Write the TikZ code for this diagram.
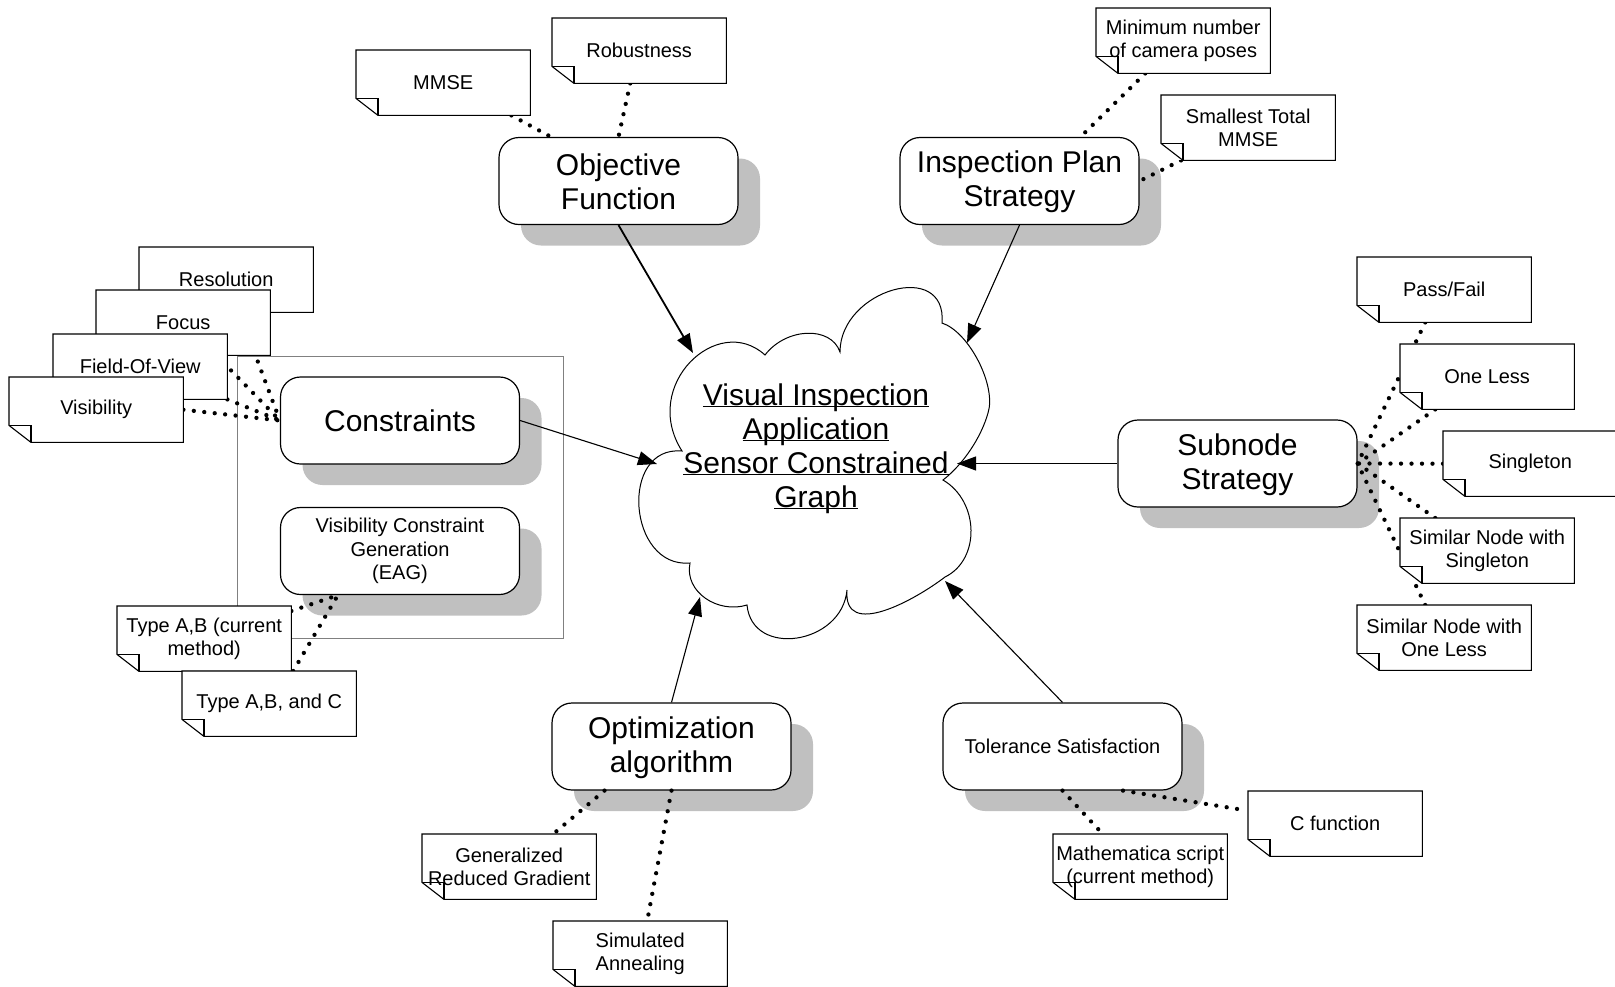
\documentclass[tikz,border=0pt]{standalone}
\usepackage{fontspec}
\setmainfont{Liberation Sans}
\usetikzlibrary{arrows.meta,shadows,calc}
\definecolor{shadowgray}{RGB}{192,192,192}
\definecolor{framegray}{RGB}{128,128,128}
\newcommand\bigfont{\fontsize{30}{34}\selectfont}
\newcommand\smallfont{\fontsize{20}{23.5}\selectfont}
\newcommand\ulin[1]{\underline{\smash{#1}}}
\pgfdeclarelayer{boxes}
\pgfdeclarelayer{dots}
\pgfsetlayers{boxes,dots,main}
\newcommand\notebox[4]{%
  \node[note] (#1) at (#2,#3) {#4};
  \draw[notepen] (#1.north west) -- (#1.north east) -- (#1.south east) -- ([xshift=22pt]#1.south west) -- ([yshift=17pt]#1.south west) -- cycle;
  \draw[notepen] ([yshift=17pt]#1.south west) -- ([shift={(22pt,17pt)}]#1.south west) -- ([xshift=22pt]#1.south west);
}
\begin{document}
\begin{tikzpicture}[x=1pt,y=-1pt,
  mainbox/.style={draw, line width=1.2pt, fill=white, rounded corners=20pt,
    minimum width=239pt, minimum height=87pt, inner sep=0pt, align=center, font=\bigfont,
    drop shadow={shadow xshift=22pt, shadow yshift=-21pt, opacity=1, fill=shadowgray}},
  note/.style={rectangle, fill=white, minimum width=174pt, minimum height=65pt,
    inner sep=0pt, align=center, font=\smallfont, anchor=north west},
  notepen/.style={draw=black, line width=1.1pt, line join=miter},
  dotline/.style={line width=4.3pt, dash pattern=on 0pt off 10.5pt, line cap=round},
  arr/.style={line width=1.1pt, -{Triangle[length=19pt,width=14pt]}},
  cloudline/.style={draw=black, line width=1pt, fill=white}]
\useasboundingbox (0,0) rectangle (1615,986);

% ---- boxes layer: frame and main rounded boxes with shadows
\begin{pgfonlayer}{boxes}
\draw[framegray, line width=1pt] (237,356) rectangle (563,638);
\node[mainbox] (obj) at (618.5,181) {\rule{0pt}{24pt}Objective\\Function};
\node[mainbox] (insp) at (1019.5,181) {\rule{0pt}{24pt}Inspection Plan\\Strategy};
\node[mainbox] (cons) at (400,420.5) {Constraints};
\node[mainbox, font=\smallfont] (vcg) at (400,551) {Visibility Constraint\\Generation\\(EAG)};
\node[mainbox] (sub) at (1237.5,463.5) {\rule{0pt}{24pt}Subnode\\Strategy};
\node[mainbox] (opt) at (671.5,746.5) {\rule{0pt}{24pt}Optimization\\algorithm};
\node[mainbox, font=\smallfont] (tol) at (1062.5,746.5) {Tolerance Satisfaction};
\end{pgfonlayer}

% ---- notes
\notebox{res}{139}{247}{Resolution}
\notebox{focus}{96}{290}{Focus}
\notebox{fov}{53}{334}{Field-Of-View}
\notebox{vis}{9}{377}{Visibility}
\notebox{typeab}{117}{606}{Type A,B (current\\method)}
\notebox{typeabc}{182}{671}{Type A,B, and C}
\notebox{mmse}{356}{50}{MMSE}
\notebox{rob}{552}{18}{Robustness}
\notebox{min}{1096}{8}{Minimum number\\of camera poses}
\notebox{small}{1161}{95}{Smallest Total\\MMSE}
\notebox{pass}{1357}{257}{Pass/Fail}
\notebox{oneless}{1400}{344}{One Less}
\notebox{single}{1443}{431}{Singleton}
\notebox{snws}{1400}{518}{Similar Node with\\Singleton}
\notebox{snwol}{1357}{605}{Similar Node with\\One Less}
\notebox{gen}{422}{834}{Generalized\\Reduced Gradient}
\notebox{sim}{553}{921}{Simulated\\Annealing}
\notebox{math}{1053}{834}{Mathematica script\\(current method)}
\notebox{cfun}{1248}{791}{C function}

% ---- dotted connectors
\begin{pgfonlayer}{dots}
\draw[dotline] ([xshift=-19pt]mmse.south east) -- ([xshift=-67.5pt]obj.north);
\draw[dotline] ([xshift=-9pt]rob.south) -- (obj.north);
\draw[dotline] ([xshift=-38pt]min.south) -- ([xshift=61pt]insp.north);
\draw[dotline] ([xshift=20pt]small.south west) -- (insp.east);
\draw[dotline] ([xshift=-74pt]res.south east) -- (cons.west);
\draw[dotline] ([xshift=-54pt]focus.south east) -- (cons.west);
\draw[dotline] (fov.south east) -- (cons.west);
\draw[dotline] (vis.east) -- (cons.west);
\draw[dotline] ([yshift=-5pt]typeab.north east) -- ([xshift=58pt]vcg.south west);
\draw[dotline] ([xshift=24pt]typeabc.north) -- ([xshift=58pt]vcg.south west);
\draw[dotline] ([xshift=-19pt]pass.south) -- (sub.east);
\draw[dotline] ([xshift=-52pt]oneless.south) -- (sub.east);
\draw[dotline] (single.west) -- (sub.east);
\draw[dotline] ([xshift=-52pt]snws.north) -- (sub.east);
\draw[dotline] ([xshift=-19pt]snwol.north) -- (sub.east);
\draw[dotline] ([xshift=-67pt]opt.south) -- ([xshift=44pt]gen.north);
\draw[dotline] (opt.south) -- ([xshift=7pt]sim.north);
\draw[dotline] (tol.south) -- ([xshift=-37.5pt]math.north);
\draw[dotline] ([xshift=60.5pt]tol.south) -- ([shift={(-6pt,14pt)}]cfun.west);
\end{pgfonlayer}

% ---- cloud
\draw[cloudline] (682,451)
  .. controls (640,385) and (718,312) .. (765,355)
  .. controls (786,327.4) and (831,325.6) .. (840,352)
  .. controls (840.1,289.4) and (947.3,259) .. (942,323)
  .. controls (969.1,331.9) and (996.7,385.9) .. (988,413)
  .. controls (981.1,437.6) and (963.1,464.4) .. (943,480)
  .. controls (979.4,501.4) and (980.6,559.6) .. (945,577)
  .. controls (915,600) and (843,640) .. (847,590)
  .. controls (842,644.75) and (752,658.25) .. (747,605)
  .. controls (718,614) and (684,592) .. (690,563)
  .. controls (627.7,568.6) and (618.9,445.4) .. (682,451) -- cycle;
\node[font=\bigfont, align=center, inner sep=0pt, anchor=north] (cloud) at (816,405)
  {\ulin{Visual Inspection}\\\ulin{Application}\\\ulin{Sensor Constrained}\\\ulin{Graph}};

% ---- arrow end points on the cloud outline
\coordinate (c-obj) at (693,353);
\coordinate (c-insp) at (967,343);
\coordinate (c-cons) at (657,464);
\coordinate (c-sub) at (957,463.5);
\coordinate (c-opt) at (700,597);
\coordinate (c-tol) at (945,581);

\draw[arr, line width=1.8pt] (obj.south) -- (c-obj);
\draw[arr] (insp.south) -- (c-insp);
\draw[arr] (cons.east) -- (c-cons);
\draw[arr] (sub.west) -- (c-sub);
\draw[arr] (opt.north) -- (c-opt);
\draw[arr] (tol.north) -- (c-tol);
\end{tikzpicture}
\end{document}
